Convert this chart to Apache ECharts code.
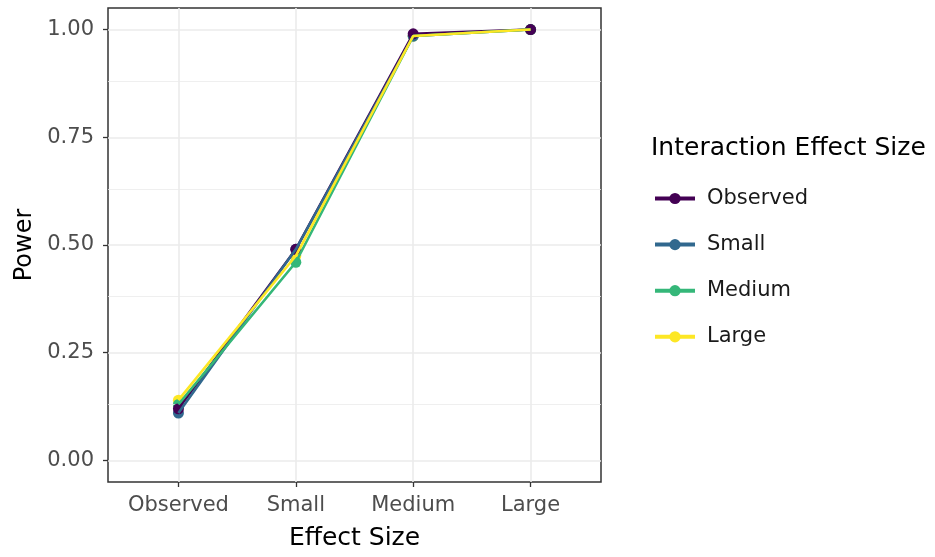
<!DOCTYPE html>
<html><head><meta charset="utf-8">
<script src="https://cdn.jsdelivr.net/npm/echarts@6/dist/echarts.min.js"></script>
<style>html,body{margin:0;padding:0;background:#fff}#c{width:935px;height:557px}</style>
</head><body><div id="c"></div>
<script>
const categories = ["Observed", "Small", "Medium", "Large"];
const seriesNames = ["Observed", "Small", "Medium", "Large"];
const observedVals = [0.12, 0.49, 0.99, 1.00];
const smallVals = [0.11, 0.49, 0.985, 1.00];
const mediumVals = [0.13, 0.46, 0.985, 1.00];
const largeVals = [0.14, 0.475, 0.985, 1.00];
const yTicks = [0, 0.25, 0.5, 0.75, 1.0];
const yMinor = [0.125, 0.375, 0.625, 0.875];
const colors = ["#440154", "#31688E", "#35B779", "#FDE725"];
const allVals = [observedVals, smallVals, mediumVals, largeVals];
const xIdx = categories.map((c, i) => i);
const FONT = 'DejaVu Sans';

const chart = echarts.init(document.getElementById('c'), null, {renderer: 'canvas'});
const series = [];
seriesNames.forEach((n, k) => {
  series.push({
    name: n, type: 'line', data: allVals[k].map((v, i) => [i, v]),
    symbol: 'circle', symbolSize: 11, showSymbol: false,
    itemStyle: {color: colors[k]}, lineStyle: {color: colors[k], width: 2.6},
    emphasis: {disabled: true}, silent: true, z: 6 + k
  });
});
seriesNames.forEach((n, k) => {
  series.push({
    type: 'scatter', data: allVals[k].map((v, i) => [i, v]),
    symbol: 'circle', symbolSize: 11,
    itemStyle: {color: colors[k], opacity: 1},
    emphasis: {disabled: true}, silent: true, z: 5 - k
  });
});
series.push({
  type: 'line', data: [], silent: true, z: 1,
  markLine: {silent: true, symbol: 'none', label: {show: false}, animation: false,
    lineStyle: {color: '#ebebeb', width: 0.8, type: 'solid'},
    data: yMinor.map(v => ({yAxis: v}))}
});
chart.setOption({
  animation: false,
  backgroundColor: '#fff',
  title: {text: 'Interaction Effect Size', left: 646, top: 131,
    textStyle: {fontFamily: FONT, fontSize: 25, fontWeight: 'normal', color: '#000'}},
  legend: {data: seriesNames, orient: 'vertical', left: 648, top: 183, itemWidth: 40, itemHeight: 14, itemGap: 25.1,
    lineStyle: {width: 4},
    textStyle: {fontFamily: FONT, fontSize: 21, color: '#1a1a1a', padding: [0, 0, 0, 7]}},
  grid: {left: 108, right: 334, top: 8, bottom: 75, show: true, borderColor: '#333', borderWidth: 1.5,
    containLabel: false, outerBoundsMode: 'none'},
  xAxis: {type: 'value', min: -0.6, max: 3.6,
    name: 'Effect Size', nameLocation: 'middle', nameGap: 44,
    nameTextStyle: {fontFamily: FONT, fontSize: 25, color: '#000'},
    axisLine: {show: false, onZero: false},
    axisTick: {show: true, length: 5, lineStyle: {color: '#333', width: 1.3}, customValues: xIdx},
    axisLabel: {customValues: xIdx, formatter: v => categories[Math.round(v)], fontFamily: FONT, fontSize: 21, color: '#4d4d4d', margin: 13},
    splitLine: {show: true, lineStyle: {color: '#ebebeb', width: 1.6}}},
  yAxis: {type: 'value', min: -0.05, max: 1.05,
    name: 'Power', nameLocation: 'middle', nameGap: 70, nameRotate: 90,
    nameTextStyle: {fontFamily: FONT, fontSize: 24, color: '#000'},
    axisLine: {show: false, onZero: false},
    axisTick: {show: true, length: 5, lineStyle: {color: '#333', width: 1.3}, customValues: yTicks},
    axisLabel: {customValues: yTicks, formatter: v => v.toFixed(2), fontFamily: FONT, fontSize: 21, color: '#4d4d4d', margin: 14},
    splitLine: {show: true, lineStyle: {color: '#ebebeb', width: 1.6}}},
  series: series
});
</script></body></html>
